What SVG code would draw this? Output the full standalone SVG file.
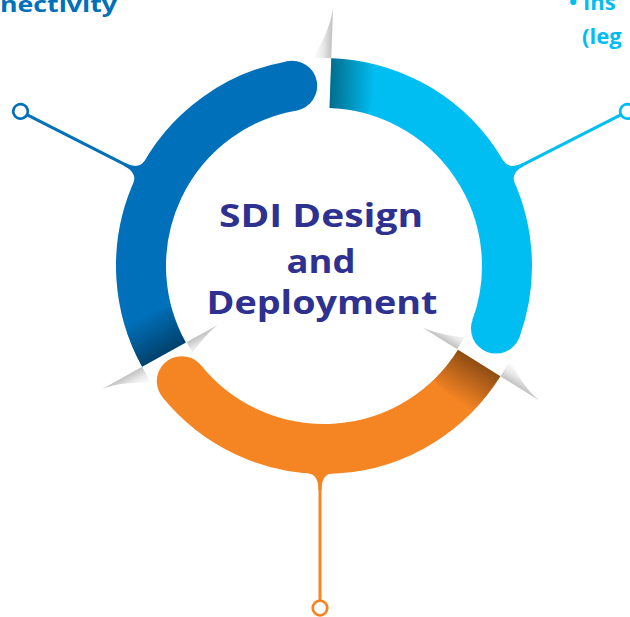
<svg xmlns="http://www.w3.org/2000/svg" width="630" height="617" viewBox="0 0 630 617">
  <defs>
    <linearGradient id="shadowOut" gradientUnits="userSpaceOnUse" x1="0" y1="0" x2="0" y2="-18">
      <stop offset="0" stop-color="#000" stop-opacity="0.24"/>
      <stop offset="0.5" stop-color="#000" stop-opacity="0.08"/>
      <stop offset="1" stop-color="#000" stop-opacity="0"/>
    </linearGradient>
    <linearGradient id="fold" gradientUnits="userSpaceOnUse" x1="0" y1="0" x2="0" y2="44">
      <stop offset="0" stop-color="#000" stop-opacity="0.42"/>
      <stop offset="1" stop-color="#000" stop-opacity="0"/>
    </linearGradient>
    <style>
      .arc { fill: none; stroke-width: 50; stroke-linecap: butt; }
      .conn { fill: none; stroke-width: 3; }
      .dot { fill: #fff; stroke-width: 2.7; }
      .title { font-family: "Open Sans", "Liberation Sans", sans-serif; font-weight: 700; font-size: 33px; fill: #2E3190; text-anchor: middle; }
      .lbl { font-family: "Open Sans", "Liberation Sans", sans-serif; font-weight: 700; font-size: 22px; }
    </style>
  </defs>
  <rect width="630" height="617" fill="#fff"/>

  <!-- labels (cut off at edges, as in the reference) -->
  <g id="label-left">
    <text class="lbl" x="0" y="12" fill="#0070BA" textLength="117" lengthAdjust="spacingAndGlyphs">nectivity</text>
  </g>
  <g id="label-right" fill="#00BDF2">
    <text class="lbl" x="569" y="10">• Ins</text>
    <text class="lbl" x="582" y="44">(leg</text>
  </g>

  <!-- connectors -->
  <g id="connectors">
    <g transform="translate(324,266) rotate(207)" stroke="#0070BA" fill="#0070BA">
      <path d="M204 -12 L207.6 -12 Q209 -1.5 224 -1.5 L224 1.5 Q209 1.5 207.6 12 L204 12 Z" stroke="none"/>
      <line class="conn" x1="205" y1="0" x2="333" y2="0"/>
      <circle class="dot" cx="340.6" cy="0" r="7.3"/>
    </g>
    <g transform="translate(324,266) rotate(-27)" stroke="#00BDF2" fill="#00BDF2">
      <path d="M204 -12 L207.6 -12 Q209 -1.5 224 -1.5 L224 1.5 Q209 1.5 207.6 12 L204 12 Z" stroke="none"/>
      <line class="conn" x1="205" y1="0" x2="333" y2="0"/>
      <circle class="dot" cx="340.6" cy="0" r="7.3"/>
    </g>
    <g stroke="#F58423" fill="#F58423">
      <path d="M308 468 L308 473.2 Q318.5 474.5 318.5 490 L321.5 490 Q321.5 474.5 332 473.2 L332 468 Z" stroke="none"/>
      <line class="conn" x1="320" y1="470" x2="320" y2="600.5"/>
      <circle class="dot" cx="320" cy="608" r="7.3"/>
    </g>
  </g>

  <!-- ring segments -->
  <g id="node-lightblue">
    <path class="arc" stroke="#00BDF2" d="M330.39 83.11 A183 183 0 0 1 495.96 328.59"/>
    <circle cx="495.96" cy="328.59" r="25" fill="#00BDF2"/>
    <g transform="translate(324,266) rotate(-88)">
      <path class="arc" stroke="url(#fold)" d="M183 0 A183 183 0 0 1 177.56 44.27"/>
      <path d="M208 0 L258 0 C240 -2 222 -10 208 -18 Z" fill="url(#shadowOut)"/>
    </g>
  </g>
  <g id="node-orange">
    <path class="arc" stroke="#F58423" d="M479.19 362.98 A183 183 0 0 1 181.78 381.17"/>
    <circle cx="181.78" cy="381.17" r="25" fill="#F58423"/>
    <g transform="translate(324,266) rotate(32)">
      <path class="arc" stroke="url(#fold)" d="M183 0 A183 183 0 0 1 177.56 44.27"/>
      <path d="M208 0 L254 0 C238 -2 222 -10 208 -18 Z" fill="url(#shadowOut)"/>
      <path d="M157 0 L116 0 C130 -2 145 -8 157 -14 Z" fill="url(#shadowOut)"/>
    </g>
  </g>
  <g id="node-blue">
    <path class="arc" stroke="#0070BA" d="M163.95 354.72 A183 183 0 0 1 292.22 85.78"/>
    <circle cx="292.22" cy="85.78" r="25" fill="#0070BA"/>
    <g transform="translate(324,266) rotate(151)">
      <path class="arc" stroke="url(#fold)" d="M183 0 A183 183 0 0 1 177.56 44.27"/>
      <path d="M208 0 L254 0 C238 -2 222 -10 208 -18 Z" fill="url(#shadowOut)"/>
      <path d="M157 0 L122 0 C134 -2 146 -7 157 -12 Z" fill="url(#shadowOut)"/>
    </g>
  </g>

  <!-- centre title -->
  <g id="node-center">
    <text class="title" x="321" y="227" textLength="204" lengthAdjust="spacingAndGlyphs">SDI Design</text>
    <text class="title" x="321" y="273" textLength="69" lengthAdjust="spacingAndGlyphs">and</text>
    <text class="title" x="322" y="314" textLength="231" lengthAdjust="spacingAndGlyphs">Deployment</text>
  </g>
</svg>
